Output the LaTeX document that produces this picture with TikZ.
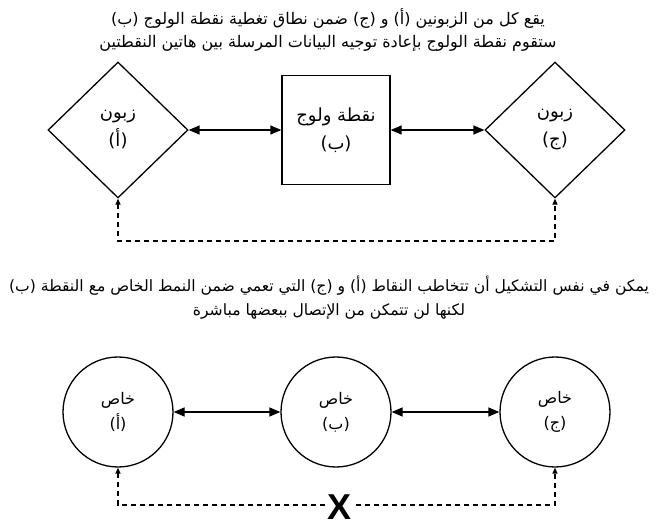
\documentclass[tikz,border=0pt]{standalone}
\usepackage{fontspec}
\usetikzlibrary{shapes.geometric,arrows.meta}
\newfontfamily\arabicfont[Script=Arabic]{DejaVu Sans}
\newfontfamily\xfont{Liberation Sans}
\TeXXeTstate=1
\newcommand{\artext}[1]{{\arabicfont\beginR #1\endR}}

\begin{document}
\begin{tikzpicture}[x=1pt,y=-1pt,line width=1.3pt,
    twotip/.style={{Triangle[length=11pt,width=9pt]}-{Triangle[length=11pt,width=9pt]}},
    dashtip/.style={{Triangle[length=6pt,width=5pt]}-{Triangle[length=6pt,width=5pt]},dash pattern=on 5pt off 4pt},
    caption/.style={align=center,font=\fontsize{16}{23}\selectfont,inner sep=0pt}]
    \useasboundingbox (0,0) rectangle (659,526);
    % top: clients and access point
    \node (capTop) at (328,30) [caption] {\artext{يقع كل من الزبونين (أ) و (ج) ضمن نطاق تغطية نقطة الولوج (ب)}\\
        \artext{ستقوم نقطة الولوج بإعادة توجيه البيانات المرسلة بين هاتين النقطتين}};
    \node (cliA) at (118,130) [diamond,draw,minimum width=140pt,minimum height=136pt,inner sep=0pt,align=center,font=\fontsize{18}{28}\selectfont] {\artext{زبون}\\\artext{(أ)}};
    \node (apB)  at (336,130) [rectangle,draw,minimum width=108pt,minimum height=109pt,align=center,font=\fontsize{18}{28}\selectfont] {\artext{نقطة ولوج}\\\artext{(ب)}};
    \node (cliC) at (555,130) [diamond,draw,minimum width=140pt,minimum height=136pt,inner sep=0pt,align=center,font=\fontsize{18}{28}\selectfont] {\artext{زبون}\\\artext{(ج)}};
    \coordinate (lowA) at (118,241);
    \coordinate (lowC) at (555,241);
    \draw[twotip]  (cliA) to (apB);
    \draw[twotip]  (apB) to (cliC);
    \draw[dashtip] (cliA) -- (lowA) -- (lowC) -- (cliC);
    % bottom: ad hoc mode
    \node (capBot) at (329,298) [caption,font=\fontsize{15.6}{24}\selectfont] {\artext{يمكن في نفس التشكيل أن تتخاطب النقاط (أ) و (ج) التي تعمي ضمن النمط الخاص مع النقطة (ب)}\\
        \artext{لكنها لن تتمكن من الإتصال ببعضها مباشرة}};
    \node (adhA) at (118,412) [circle,draw,minimum size=110pt,align=center,font=\fontsize{16}{25}\selectfont] {\artext{خاص}\\\artext{(أ)}};
    \node (adhB) at (336,412) [circle,draw,minimum size=110pt,align=center,font=\fontsize{16}{25}\selectfont] {\artext{خاص}\\\artext{(ب)}};
    \node (adhC) at (555,412) [circle,draw,minimum size=110pt,align=center,font=\fontsize{16}{25}\selectfont] {\artext{خاص}\\\artext{(ج)}};
    \coordinate (botA) at (118,505);
    \coordinate (botC) at (555,505);
    \draw[twotip]  (adhA) to (adhB);
    \draw[twotip]  (adhB) to (adhC);
    \draw[dashtip] (adhA) -- (botA) -- (botC) -- (adhC);
    \node (noLink) at (340,507) [fill=white,inner sep=1pt,font=\xfont\bfseries\fontsize{36}{36}\selectfont] {X};
\end{tikzpicture}
\end{document}
